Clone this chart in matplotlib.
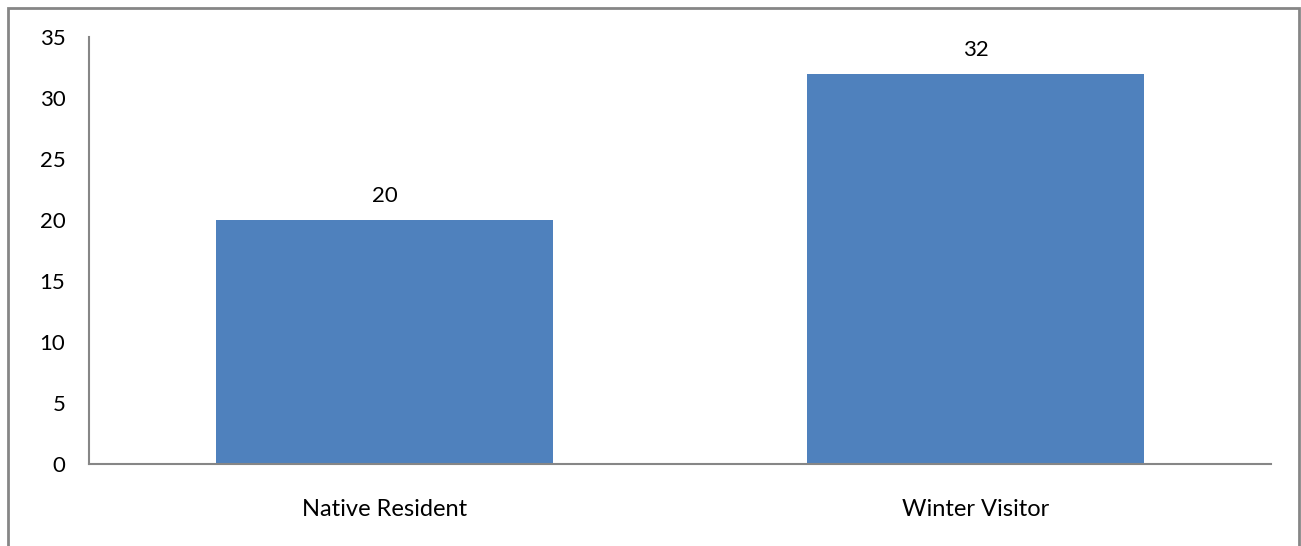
import matplotlib.pyplot as plt
from matplotlib.patches import Rectangle

categories = ['Native Resident', 'Winter Visitor']
counts = [20, 32]
yticks = [0, 5, 10, 15, 20, 25, 30, 35]

plt.rcParams['font.family'] = ['Lato', 'DejaVu Sans']

fig = plt.figure(figsize=(13.01, 5.46), dpi=100)
ax = fig.add_axes([0.0684, 0.1502, 0.9085, 0.782])

bars = ax.bar(range(len(categories)), counts, width=0.57, color='#4F81BD')
ax.bar_label(bars, labels=[str(c) for c in counts], padding=10, fontsize=16)

ax.set_xlim(-0.5, 1.5)
ax.set_ylim(0, 35)
ax.set_yticks(yticks)
ax.set_xticks(range(len(categories)))
ax.set_xticklabels(categories)
ax.tick_params(axis='y', length=0, pad=17, labelsize=16)
ax.tick_params(axis='x', length=0, pad=25, labelsize=17)

for s in ['top', 'right']:
    ax.spines[s].set_visible(False)
for s in ['left', 'bottom']:
    ax.spines[s].set_color('#868686')
    ax.spines[s].set_linewidth(1.5)

# outer chart frame
frame = Rectangle((8 / 1301, -0.05), 1291 / 1301, 1.05 - 8 / 546,
                  transform=fig.transFigure, fill=False,
                  edgecolor='#868686', linewidth=2, clip_on=False)
fig.patches.append(frame)

fig.savefig('out.png', dpi=100)
